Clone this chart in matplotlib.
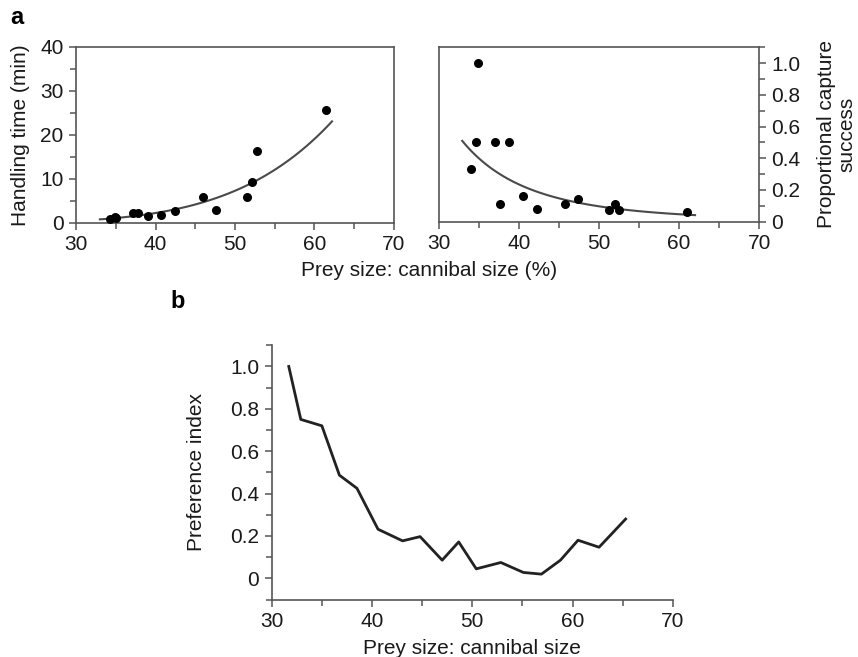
import numpy as np
import matplotlib
matplotlib.use('Agg')
import matplotlib.pyplot as plt
from matplotlib.ticker import MultipleLocator

plt.rcParams['font.family'] = ['Liberation Sans', 'DejaVu Sans']

# panel a, left: handling time vs prey size
ht_x = [34.3, 34.9, 35.0, 37.2, 37.75, 39.1, 40.7, 42.5, 46.0, 47.6, 51.5, 52.2, 52.8, 61.4]
ht_y = [0.8, 1.3, 1.2, 2.2, 2.3, 1.7, 1.8, 2.8, 6.0, 3.0, 5.8, 9.3, 16.4, 25.7]
ht_fit_range = [33.0, 62.2]

# panel a, right: proportional capture success
cs_x = [34.05, 34.6, 34.9, 37.0, 37.6, 38.8, 40.5, 42.3, 45.8, 47.4, 51.2, 52.0, 52.5, 61.05]
cs_y = [0.333, 0.5, 1.0, 0.5, 0.11, 0.5, 0.16, 0.08, 0.11, 0.14, 0.075, 0.11, 0.075, 0.06]
cs_fit_range = [32.9, 62.0]

# panel b: preference index
pi_x = [31.7, 32.9, 35.0, 36.75, 38.5, 40.6, 43.05, 44.8, 47.0, 48.65, 50.4, 52.85,
        55.1, 56.9, 58.8, 60.55, 62.65, 65.3]
pi_y = [1.0, 0.75, 0.72, 0.487, 0.425, 0.232, 0.177, 0.197, 0.086, 0.172, 0.045, 0.075,
        0.028, 0.02, 0.086, 0.18, 0.147, 0.28]

axis_col = '#555555'
text_col = '#1a1a1a'
fs = 15


def power_fit(x, y, xr):
    b, a = np.polyfit(np.log(x), np.log(y), 1)
    xs = np.linspace(xr[0], xr[1], 100)
    return xs, np.exp(a) * xs ** b


def style(ax):
    for s in ax.spines.values():
        s.set_color(axis_col)
        s.set_linewidth(1.2)
    ax.tick_params(which='both', direction='out', color=axis_col, width=1.1,
                   labelsize=fs, labelcolor=text_col, pad=4)
    ax.tick_params(which='major', length=5)
    ax.tick_params(which='minor', length=4)
    ax.set_xlim(30, 70)
    ax.xaxis.set_major_locator(MultipleLocator(10))
    ax.xaxis.set_minor_locator(MultipleLocator(5))


fig = plt.figure(figsize=(8.58, 6.57), dpi=100)

# left panel
ax1 = fig.add_axes([0.0886, 0.6606, 0.3706, 0.2679])
style(ax1)
ax1.scatter(ht_x, ht_y, s=30, color='black', zorder=3)
fx, fy = power_fit(ht_x, ht_y, ht_fit_range)
ax1.plot(fx, fy, color='#4a4a4a', lw=1.5)
ax1.set_ylim(0, 40)
ax1.yaxis.set_major_locator(MultipleLocator(10))
ax1.yaxis.set_minor_locator(MultipleLocator(5))
ax1.set_ylabel('Handling time (min)', fontsize=fs, color=text_col, labelpad=7)

# right panel
ax2 = fig.add_axes([0.5117, 0.6626, 0.3730, 0.2654])
style(ax2)
ax2.scatter(cs_x, cs_y, s=30, color='black', zorder=3)
fx, fy = power_fit(cs_x, cs_y, cs_fit_range)
ax2.plot(fx, fy, color='#4a4a4a', lw=1.5)
ax2.set_ylim(0, 1.1)
ax2.yaxis.set_minor_locator(MultipleLocator(0.1))
ax2.yaxis.tick_right()
ax2.yaxis.set_label_position('right')
ax2.set_yticks([0, 0.2, 0.4, 0.6, 0.8, 1.0])
ax2.set_yticklabels(['0', '0.2', '0.4', '0.6', '0.8', '1.0'])
ax2.set_ylabel('Proportional capture\nsuccess', fontsize=fs, color=text_col,
               rotation=90, labelpad=12, linespacing=1.05)

fig.text(0.5, 1 - 270 / 657, 'Prey size: cannibal size (%)', fontsize=fs,
         color=text_col, ha='center', va='center')
fig.text(0.012, 1 - 18 / 657, 'a', fontsize=17, fontweight='bold', ha='left', va='center')

# panel b
ax3 = fig.add_axes([0.3167, 0.0874, 0.4674, 0.3871])
style(ax3)
ax3.spines['top'].set_visible(False)
ax3.spines['right'].set_visible(False)
ax3.plot(pi_x, pi_y, color='#222222', lw=2)
ax3.set_ylim(-0.1, 1.1)
ax3.set_yticks([0, 0.2, 0.4, 0.6, 0.8, 1.0])
ax3.set_yticklabels(['0', '0.2', '0.4', '0.6', '0.8', '1.0'])
ax3.yaxis.set_minor_locator(MultipleLocator(0.1))
ax3.set_ylabel('Preference index', fontsize=fs, color=text_col, labelpad=17)
ax3.set_xlabel('Prey size: cannibal size', fontsize=fs, color=text_col, labelpad=6)
fig.text(170 / 858, 1 - 301 / 657, 'b', fontsize=17, fontweight='bold', ha='left', va='center')

fig.savefig('out.png', dpi=100)
